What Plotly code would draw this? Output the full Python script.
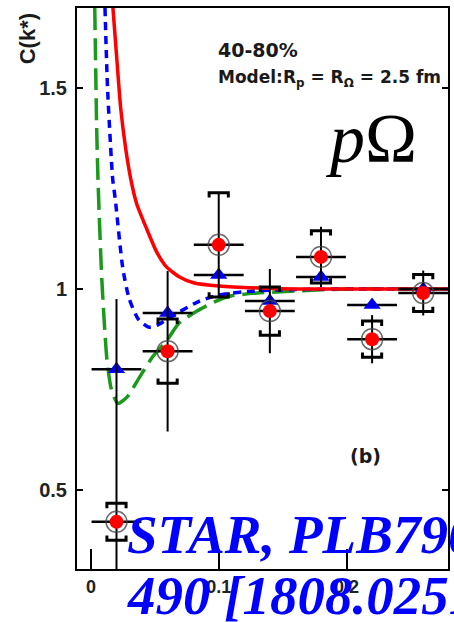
import plotly.graph_objects as go

# ---- data ----
k_star = [0.02, 0.06, 0.10, 0.14, 0.18, 0.22, 0.26]
k_halfbin = [0.0195, 0.0195, 0.0195, 0.0195, 0.0195, 0.0195, 0.0195]
c_data = [0.42, 0.845, 1.11, 0.945, 1.08, 0.875, 0.99]
c_stat = [0.555, 0.20, 0.13, 0.105, 0.075, 0.06, 0.056]
c_sys = [0.046, 0.08, 0.13, 0.06, 0.065, 0.045, 0.046]
c_blue = [0.80, 0.94, 1.035, 0.97, 1.03, 0.96, 1.0]

red_k = [0.0171, 0.0202, 0.0233, 0.0272, 0.0311, 0.0358, 0.0436, 0.0514, 0.0591, 0.0693, 0.0809, 0.1004, 0.1315, 0.1626, 0.28]
red_c = [1.705, 1.575, 1.45, 1.35, 1.275, 1.2125, 1.15, 1.0925, 1.055, 1.03, 1.015, 1.0075, 1.0025, 1.0, 1.0]

blue_k = [0.011, 0.013, 0.017, 0.019, 0.025, 0.030, 0.037, 0.045, 0.052, 0.060, 0.069, 0.085, 0.10, 0.12, 0.15, 0.20, 0.28]
blue_c = [1.70, 1.50, 1.275, 1.225, 1.05, 0.975, 0.925, 0.905, 0.91, 0.925, 0.9425, 0.97, 0.985, 0.993, 0.998, 1.0, 1.0]

green_k = [0.003, 0.0045, 0.0055, 0.0085, 0.0125, 0.016, 0.021, 0.028, 0.038, 0.048, 0.059, 0.069, 0.083, 0.098, 0.11, 0.13, 0.16, 0.20, 0.28]
green_c = [1.70, 1.40, 1.275, 1.025, 0.825, 0.75, 0.715, 0.73, 0.78, 0.83, 0.87, 0.915, 0.945, 0.97, 0.983, 0.99, 0.995, 1.0, 1.0]

x_ticks = [0, 0.1, 0.2]
x_ticktext = ["0", "0.1", "0.2"]
y_ticks = [0.5, 1, 1.5]
y_ticktext = ["0.5", "1", "1.5"]

# ---- bracket geometry for systematic errors (style constants) ----
BW = 0.0075
BH = 0.012
bx, by = [], []
for k, c, s in zip(k_star, c_data, c_sys):
    top, bot = c + s, c - s
    bx += [k - BW, k - BW, k + BW, k + BW, None, k - BW, k - BW, k + BW, k + BW, None]
    by += [top - BH, top, top, top - BH, None, bot + BH, bot, bot, bot + BH, None]

fig = go.Figure()

fig.add_trace(go.Scatter(x=green_k, y=green_c, mode="lines",
                         line=dict(color="#1a9a1a", width=3.5, dash="22px,8px", shape="spline", smoothing=0.6)))
fig.add_trace(go.Scatter(x=blue_k, y=blue_c, mode="lines",
                         line=dict(color="#0000ff", width=3.5, dash="8px,6px", shape="spline", smoothing=0.6)))
fig.add_trace(go.Scatter(x=red_k, y=red_c, mode="lines",
                         line=dict(color="#ff0000", width=3.5, shape="spline", smoothing=0.6)))

# blue triangles with horizontal bars
fig.add_trace(go.Scatter(x=k_star, y=c_blue, mode="markers",
                         marker=dict(symbol="triangle-up", size=15, color="#0000ee"),
                         error_x=dict(type="data", array=k_halfbin, color="black", thickness=2.5, width=0)))

# systematic brackets
fig.add_trace(go.Scatter(x=bx, y=by, mode="lines", line=dict(color="black", width=3)))

# data points with stat errors
fig.add_trace(go.Scatter(x=k_star, y=c_data, mode="markers",
                         marker=dict(symbol="circle-open", size=21, color="rgba(70,70,70,0.8)", line=dict(width=1.5)),
                         error_x=dict(type="data", array=k_halfbin, color="black", thickness=2.5, width=0),
                         error_y=dict(type="data", array=c_stat, color="black", thickness=2, width=0)))
fig.add_trace(go.Scatter(x=k_star, y=c_data, mode="markers",
                         marker=dict(symbol="circle", size=14, color="#ff0000")))

tickfont = dict(family="Liberation Sans", size=18, weight="bold", color="#222")

fig.update_layout(
    width=454, height=622,
    margin=dict(l=77, r=4, t=8, b=53),
    paper_bgcolor="white", plot_bgcolor="white",
    showlegend=False,
    xaxis=dict(range=[-0.0109, 0.2794], tickvals=x_ticks, ticktext=x_ticktext,
               ticks="inside", ticklen=20, tickwidth=2, tickcolor="black",
               showline=True, linecolor="black", linewidth=2, mirror=True,
               showgrid=False, zeroline=False, tickfont=tickfont),
    yaxis=dict(range=[0.3025, 1.7], tickvals=y_ticks, ticktext=y_ticktext,
               ticks="inside", ticklen=6, tickwidth=2, tickcolor="black",
               showline=True, linecolor="black", linewidth=2, mirror="ticks",
               showgrid=False, zeroline=False, ticklabelstandoff=4,
               tickfont=dict(family="Liberation Sans", size=20, weight="bold", color="#222")),
)

txt = dict(family="DejaVu Sans", weight="bold", color="#1a1a1a")
ann = [
    dict(x=-0.134, y=0.9447, text="C(k*)", textangle=-90, showarrow=False,
         font=dict(family="Liberation Sans", size=22, weight="bold", color="#1a1a1a"),
         xanchor="center", yanchor="middle"),
    dict(x=0.375, y=0.925, text="40-80%", showarrow=False, font=dict(size=19, **txt),
         xanchor="left", yanchor="middle"),
    dict(x=0.375, y=0.875, text="Model:R<sub>p</sub> = R<sub>Ω</sub> = 2.5 fm", showarrow=False,
         font=dict(size=17, **txt), xanchor="left", yanchor="middle"),
    dict(x=0.662, y=0.768, text="<i>p</i>Ω", showarrow=False,
         font=dict(family="Liberation Serif", size=70, color="black"), xanchor="left", yanchor="middle"),
    dict(x=0.777, y=0.2014, text="(b)", showarrow=False, font=dict(size=19, **txt),
         xanchor="center", yanchor="middle"),
    dict(x=0.129, y=0.062, text="<b><i>STAR, PLB790</i></b>", showarrow=False,
         font=dict(family="Liberation Serif", size=55, color="#0000ff"), xanchor="left", yanchor="middle"),
    dict(x=0.129, y=-0.048, text="<b><i>490 [1808.02511]</i></b>", showarrow=False,
         font=dict(family="Liberation Serif", size=55, color="#0000ff"), xanchor="left", yanchor="middle"),
]
for a in ann:
    a["xref"] = "paper"
    a["yref"] = "paper"
fig.update_layout(annotations=ann)

fig.write_html("out.html", config={"displayModeBar": False},
               post_script="document.body.style.margin='0';document.body.style.overflow='hidden';")
